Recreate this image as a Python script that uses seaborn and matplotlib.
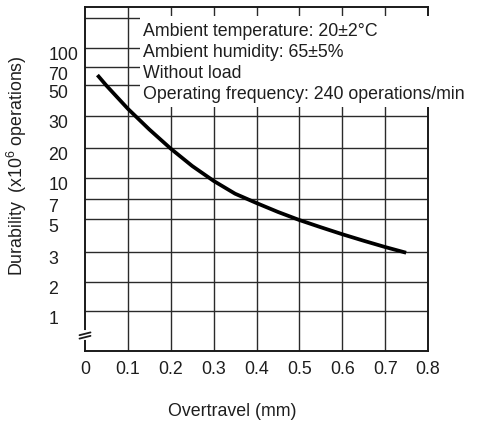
import numpy as np
import pandas as pd
import matplotlib
matplotlib.use("Agg")
import matplotlib.pyplot as plt
import matplotlib.transforms as mtransforms
from matplotlib.patches import Rectangle
import seaborn as sns

# Durability curve (x10^6 operations) against overtravel (mm)
overtravel = [0.029, 0.05, 0.10, 0.15, 0.20, 0.25, 0.30, 0.35, 0.40, 0.45,
              0.50, 0.55, 0.60, 0.65, 0.70, 0.749]
durability = [60.2, 49.5, 33.8, 25.3, 19.7, 13.2, 9.52, 7.66, 6.54, 5.63,
              4.92, 4.40, 3.95, 3.57, 3.24, 2.97]

x_ticks = [0, 0.1, 0.2, 0.3, 0.4, 0.5, 0.6, 0.7, 0.8]
x_tick_labels = ["0", "0.1", "0.2", "0.3", "0.4", "0.5", "0.6", "0.7", "0.8"]
y_ticks = [1, 2, 3, 5, 7, 10, 20, 30, 50, 70, 100]
y_tick_labels = ["1", "2", "3", "5", "7", "10", "20", "30", "50", "70", "100"]
y_extra_grid = [200]

conditions = [
    "Ambient temperature: 20\u00b12\u00b0C",
    "Ambient humidity: 65\u00b15%",
    "Without load",
    "Operating frequency: 240 operations/min",
]

# Chart-paper spacing of the durability axis (piecewise, roughly logarithmic)
scale_values = [0.4, 1, 2, 3, 5, 7, 10, 20, 30, 50, 70, 100, 200, 230]
scale_pos = [0, 40, 69, 99, 132, 152, 173, 203, 235, 266, 284, 303, 333, 344]
_logs = np.log10(scale_values)


def forward(v):
    v = np.asarray(v, dtype=float)
    return np.interp(np.log10(np.clip(v, 1e-9, None)), _logs, scale_pos)


def inverse(p):
    p = np.asarray(p, dtype=float)
    return 10 ** np.interp(p, scale_pos, _logs)


sns.set_theme(style="white")
plt.rcParams["font.family"] = ["Liberation Sans", "DejaVu Sans"]
plt.rcParams["mathtext.fontset"] = "custom"
plt.rcParams["mathtext.rm"] = "Liberation Sans"

W, H = 481, 424
fig = plt.figure(figsize=(W / 100, H / 100), dpi=100)
ax = fig.add_axes([85 / W, (H - 351) / H, (428 - 85) / W, (351 - 7) / H])

df = pd.DataFrame({"Overtravel": overtravel, "Durability": durability})
ax.set_yscale("function", functions=(forward, inverse))
sns.lineplot(data=df, x="Overtravel", y="Durability", ax=ax, color="black",
             linewidth=2.7, zorder=5, solid_capstyle="butt", solid_joinstyle="round")

ax.set_xlim(0, 0.8)
ax.set_ylim(0.4, 230)

text_color = "#1e1e1e"
fs = 12.8

ax.set_xticks(x_ticks, x_tick_labels)
ax.set_yticks(y_ticks, y_tick_labels)
ax.tick_params(axis="x", length=0, pad=7.5, labelsize=fs, labelcolor=text_color)
ax.tick_params(axis="y", length=0, pad=26.5, labelsize=fs, labelcolor=text_color)
down = mtransforms.ScaledTranslation(0, -6 / 100, fig.dpi_scale_trans)
for lab in ax.get_yticklabels():
    lab.set_horizontalalignment("left")
    lab.set_transform(lab.get_transform() + down)

ax.set_xlabel("")
ax.set_ylabel("")

grid_kw = dict(color="#2a2a2a", linewidth=1.0, zorder=1)
for xv in x_ticks[1:-1]:
    ax.axvline(xv, **grid_kw)
for yv in y_ticks + y_extra_grid:
    ax.axhline(yv, **grid_kw)

for side in ["left", "bottom", "right", "top"]:
    ax.spines[side].set_visible(True)
    ax.spines[side].set_color("#1a1a1a")
    ax.spines[side].set_linewidth(1.4)

# White panel holding the test conditions
ax.add_patch(Rectangle((0.160, 0.7093), 0.97, 0.2631, transform=ax.transAxes,
                       facecolor="white", edgecolor="none", zorder=3, clip_on=False))
baselines = [35.7, 57.3, 77.7, 99.0]
for txt, yb in zip(conditions, baselines):
    fig.text(143 / W, 1 - yb / H, txt, ha="left", va="baseline",
             fontsize=fs, color=text_color, zorder=6)

# Axis break on the durability axis
ax.plot([0, 0], [0.038, 0.054], transform=ax.transAxes, color="white",
        linewidth=3, clip_on=False, zorder=6)
for yb in (0.040, 0.050):
    ax.plot([-0.016, 0.016], [yb - 0.004, yb + 0.004], transform=ax.transAxes,
            color="#1a1a1a", linewidth=1.3, clip_on=False, zorder=7)

fig.text(17 / W, 1 - 166 / H, "Durability  (x10$^{\\mathrm{6}}$ operations)",
         rotation=90, ha="center", va="center", fontsize=fs, color=text_color)
fig.text(232 / W, 1 - 412 / H, "Overtravel (mm)", ha="center", va="center",
         fontsize=fs, color=text_color)

fig.savefig("out.png", dpi=100, facecolor="white")
